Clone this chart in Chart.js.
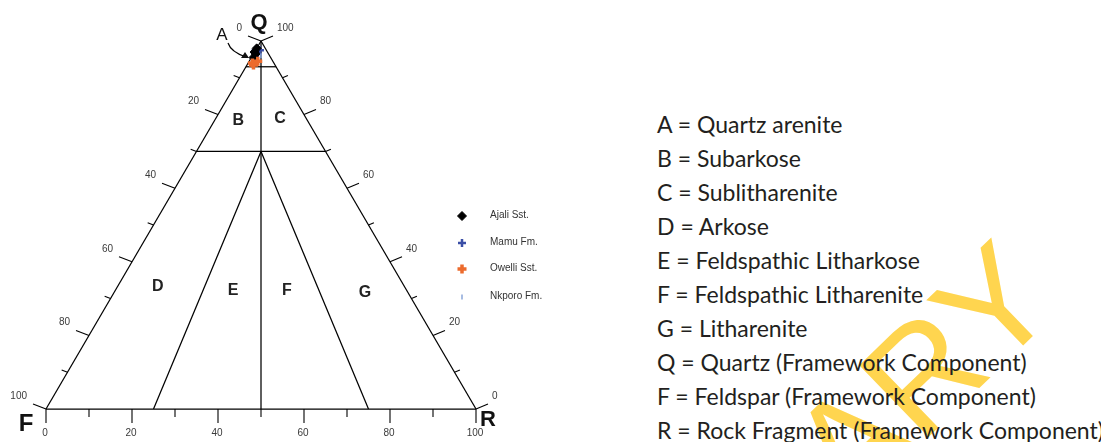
<!DOCTYPE html>
<html><head><meta charset="utf-8">
<script src="https://cdn.jsdelivr.net/npm/chart.js@4.4.1/dist/chart.umd.min.js"></script>
<style>
html,body{margin:0;padding:0;background:#fff;width:1101px;height:442px;overflow:hidden;position:relative}
#wrap{position:absolute;left:0;top:0;width:640px;height:442px;z-index:3}
#list{position:absolute;left:657px;top:107px;font-family:Lato,"Open Sans",sans-serif;font-size:23px;line-height:34px;color:#231f20;white-space:nowrap;z-index:2}
#wm{position:absolute;right:72px;top:199px;font-family:"Liberation Sans",Arial,sans-serif;font-size:145px;line-height:145px;color:#ffd54f;white-space:nowrap;transform-origin:100% 50%;transform:rotate(-44deg);z-index:1}
</style></head><body>
<div id="wm">AFRIBARY</div>
<div id="wrap"><canvas id="c" width="640" height="442"></canvas></div>
<div id="list"></div>
<script>
// ---- data (each sample: [Q %, F %, R %]) ----
const seriesNames = ['Ajali Sst.', 'Mamu Fm.', 'Owelli Sst.', 'Nkporo Fm.'];
const ajaliQFR  = [[97,3,0],[98,2,0],[96.5,3,0.5],[95.5,4,0.5]];
const mamuQFR   = [[97.5,2.5,0],[97.5,1.5,1],[96.5,2.5,1]];
const owelliQFR = [[94,5,1],[94.5,3.5,2],[93.5,5,1.5]];
const nkporoQFR = [[96,2,2]];
const quartzBoundaries = [93, 70];          // Q % of horizontal field boundaries
const baseSplits = [25, 50, 75];            // R % where field boundaries meet F–R side
const tickSteps = [0,10,20,30,40,50,60,70,80,90,100];
const labeledTicks = [0,20,40,60,80,100];
const regionLetters = ['A','B','C','D','E','F','G'];
const regionNames = ['Quartz arenite','Subarkose','Sublitharenite','Arkose','Feldspathic Litharkose','Feldspathic Litharenite','Litharenite'];
const poleLetters = ['Q','F','R'];
const poleNames = ['Quartz (Framework Component)','Feldspar (Framework Component)','Rock Fragment (Framework Component)'];

// ---- helpers ----
const toXY = ([q,f,r]) => ({x: r + q/2, y: q});
const seg = (a,b) => ({data:[toXY(a),toXY(b)], showLine:true, pointRadius:0, borderColor:'#000', borderWidth:1.25, order:10, clip:false});

const frameSets = [
  seg([100,0,0],[0,100,0]), seg([0,100,0],[0,0,100]), seg([0,0,100],[100,0,0])
];
quartzBoundaries.forEach(q => frameSets.push(seg([q,100-q,0],[q,0,100-q])));
const midQ = quartzBoundaries[1];
baseSplits.forEach(s => {
  if (s === 50) frameSets.push(seg([100,0,0],[0,50,50]));
  else frameSets.push(seg([midQ,(100-midQ)/2,(100-midQ)/2],[0,100-s,s]));
});

const pointStyles = [
  {pointStyle:'rectRot', radius:4.5, color:'#000', bw:1},
  {pointStyle:'cross', radius:4, color:'#3a4ea6', bw:2.5},
  {pointStyle:'cross', radius:4.5, color:'#ec6b2d', bw:3.5},
  {pointStyle:'line', radius:2.5, color:'#8aa6d8', bw:1.5, rotation:90}
];
const sampleSets = [ajaliQFR, mamuQFR, owelliQFR, nkporoQFR].map((arr,i) => ({
  label: seriesNames[i], data: arr.map(toXY), showLine:false,
  pointStyle: pointStyles[i].pointStyle, pointRadius: pointStyles[i].radius,
  pointRotation: pointStyles[i].rotation || 0,
  backgroundColor: pointStyles[i].color, borderColor: pointStyles[i].color,
  borderWidth: pointStyles[i].bw, order: i === 0 ? 3 : (4 - i), clip:false
}));

const regionPos = [null,{x:44.7,y:78.5},{x:54.4,y:78.8},{x:26,y:33.2},{x:43.5,y:32.3},{x:56,y:32.3},{x:74.2,y:31.5}];

const annot = {
  id:'ternaryAnnot',
  afterDraw(chart){
    const ctx = chart.ctx, xs = chart.scales.x, ys = chart.scales.y;
    const P = (q,f,r) => [xs.getPixelForValue(r + q/2), ys.getPixelForValue(q)];
    const ln = (x1,y1,x2,y2) => {ctx.beginPath(); ctx.moveTo(x1,y1); ctx.lineTo(x2,y2); ctx.stroke();};
    ctx.save();
    ctx.strokeStyle = '#000'; ctx.lineWidth = 1.1;
    ctx.font = '10px "Liberation Sans", Arial, sans-serif'; ctx.fillStyle = '#3a3a3a';
    tickSteps.forEach(v => {
      const major = labeledTicks.includes(v);
      const k = major ? 1 : 0.45;
      let [x,y] = P(100-v, v, 0);
      ln(x,y,x-13*k,y-5*k);
      if (major){ ctx.textAlign='right'; ctx.textBaseline='middle'; ctx.fillText(String(v), x-19, y-13); }
      [x,y] = P(v, 0, 100-v);
      ln(x,y,x+12*k,y-5*k);
      if (major){ ctx.textAlign='left'; ctx.textBaseline='middle'; ctx.fillText(String(v), x+16, y-13); }
      [x,y] = P(0, 100-v, v);
      ln(x,y,x,y+(major?14:8));
      if (major){ ctx.textAlign='center'; ctx.textBaseline='middle'; ctx.fillText(String(v), x-1, y+24); }
    });
    // pole labels
    ctx.fillStyle = '#111'; ctx.textAlign='center'; ctx.textBaseline='middle';
    let [qx,qy] = P(100,0,0);
    ctx.font = 'bold 22px "Liberation Sans", Arial, sans-serif';
    ctx.fillText(poleLetters[0], qx-2, qy-18);
    let [fx,fy] = P(0,100,0);
    ctx.font = 'bold 24px "Liberation Sans", Arial, sans-serif';
    ctx.fillText(poleLetters[1], fx-20, fy+15);
    let [rx,ry] = P(0,0,100);
    ctx.font = 'bold 22px "Liberation Sans", Arial, sans-serif';
    ctx.fillText(poleLetters[2], rx+12, ry+11);
    // region labels
    ctx.font = 'bold 16px "Liberation Sans", Arial, sans-serif'; ctx.fillStyle='#222';
    for (let i=1;i<regionLetters.length;i++){
      ctx.fillText(regionLetters[i], xs.getPixelForValue(regionPos[i].x), ys.getPixelForValue(regionPos[i].y));
    }
    // A label with arrow
    ctx.font = '17px "Liberation Sans", Arial, sans-serif'; ctx.fillStyle='#111';
    ctx.fillText(regionLetters[0], qx-39, qy-6);
    ctx.lineWidth = 1.2;
    ctx.beginPath(); ctx.moveTo(qx-33, qy+2); ctx.quadraticCurveTo(qx-30, qy+11, qx-15, qy+16); ctx.stroke();
    ctx.beginPath(); ctx.moveTo(qx-12, qy+17); ctx.lineTo(qx-20, qy+17); ctx.lineTo(qx-16, qy+11); ctx.closePath(); ctx.fill();
    // legend
    const lx = 462, ly = [216,243,269,297];
    ctx.font = '10px "Liberation Sans", Arial, sans-serif'; ctx.textAlign='left';
    seriesNames.forEach((name,i) => {
      const s = pointStyles[i];
      ctx.fillStyle = s.color; ctx.strokeStyle = s.color; ctx.lineWidth = s.bw;
      Chart.helpers.drawPoint(ctx, {pointStyle:s.pointStyle, radius:s.radius, rotation:s.rotation||0, borderWidth:s.bw}, lx, ly[i]);
      ctx.fillStyle = '#333';
      ctx.fillText(name, lx+28, ly[i]-1);
    });
    ctx.restore();
  }
};

new Chart(document.getElementById('c'), {
  type:'scatter',
  data:{datasets:[...frameSets, ...sampleSets]},
  options:{
    responsive:false, animation:false, devicePixelRatio:1,
    layout:{padding:{left:46, right:164, top:41, bottom:33}},
    scales:{x:{display:false,min:0,max:100}, y:{display:false,min:0,max:100}},
    plugins:{legend:{display:false}, tooltip:{enabled:false}}
  },
  plugins:[annot]
});

// right-hand key
const list = document.getElementById('list');
regionLetters.forEach((l,i) => { const d=document.createElement('div'); d.textContent = l + ' = ' + regionNames[i]; list.appendChild(d); });
poleLetters.forEach((l,i) => { const d=document.createElement('div'); d.textContent = l + ' = ' + poleNames[i]; list.appendChild(d); });
</script>
</body></html>
